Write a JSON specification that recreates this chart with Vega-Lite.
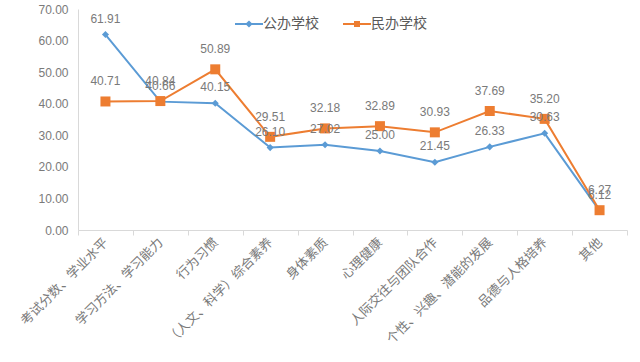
{
  "$schema": "https://vega.github.io/schema/vega-lite/v6.json",
  "width": 549,
  "height": 221,
  "autosize": "none",
  "padding": {"left": 78, "top": 9, "right": 13, "bottom": 132},
  "background": "white",
  "config": {"view": {"stroke": null}, "font": "Noto Sans CJK SC"},
  "data": {"values": [
    {"cat": "考试分数、学业水平", "o": 1, "s": "公办学校", "v": 61.91},
    {"cat": "学习方法、学习能力", "o": 2, "s": "公办学校", "v": 40.66},
    {"cat": "行为习惯", "o": 3, "s": "公办学校", "v": 40.15},
    {"cat": "（人文、科学）综合素养", "o": 4, "s": "公办学校", "v": 26.10},
    {"cat": "身体素质", "o": 5, "s": "公办学校", "v": 27.02},
    {"cat": "心理健康", "o": 6, "s": "公办学校", "v": 25.00},
    {"cat": "人际交往与团队合作", "o": 7, "s": "公办学校", "v": 21.45},
    {"cat": "个性、兴趣、潜能的发展", "o": 8, "s": "公办学校", "v": 26.33},
    {"cat": "品德与人格培养", "o": 9, "s": "公办学校", "v": 30.63},
    {"cat": "其他", "o": 10, "s": "公办学校", "v": 6.12},
    {"cat": "考试分数、学业水平", "o": 1, "s": "民办学校", "v": 40.71},
    {"cat": "学习方法、学习能力", "o": 2, "s": "民办学校", "v": 40.84},
    {"cat": "行为习惯", "o": 3, "s": "民办学校", "v": 50.89},
    {"cat": "（人文、科学）综合素养", "o": 4, "s": "民办学校", "v": 29.51},
    {"cat": "身体素质", "o": 5, "s": "民办学校", "v": 32.18},
    {"cat": "心理健康", "o": 6, "s": "民办学校", "v": 32.89},
    {"cat": "人际交往与团队合作", "o": 7, "s": "民办学校", "v": 30.93},
    {"cat": "个性、兴趣、潜能的发展", "o": 8, "s": "民办学校", "v": 37.69},
    {"cat": "品德与人格培养", "o": 9, "s": "民办学校", "v": 35.20},
    {"cat": "其他", "o": 10, "s": "民办学校", "v": 6.27}
  ]},
  "encoding": {
    "x": {"field": "cat", "type": "nominal", "sort": {"field": "o"},
      "scale": {"type": "band", "paddingInner": 0, "paddingOuter": 0},
      "axis": {"title": null, "labelAngle": -45, "labelAlign": "right", "labelBaseline": "middle",
        "labelFontSize": 13, "labelColor": "#7a7a7a", "tickBand": "extent", "domainColor": "#d9d9d9",
        "tickColor": "#d9d9d9", "tickSize": 5, "labelPadding": 5, "labelLimit": 200}},
    "y": {"field": "v", "type": "quantitative",
      "scale": {"domain": [0, 70]},
      "axis": {"title": null, "values": [0,10,20,30,40,50,60,70], "format": ".2f", "grid": false,
        "domainColor": "#d9d9d9", "ticks": false, "labelFontSize": 12, "labelColor": "#7a7a7a",
        "labelPadding": 10, "labelFont": "Liberation Sans"}},
    "color": {"field": "s", "type": "nominal",
      "scale": {"domain": ["公办学校", "民办学校"], "range": ["#5B9BD5", "#ED7D31"]},
      "legend": {"title": null, "orient": "none", "legendX": 160, "legendY": 4, "direction": "horizontal",
        "labelFontSize": 14, "labelColor": "#595959", "columnPadding": 20, "symbolSize": 400, "symbolStrokeWidth": 2,
        "symbolType": "M-1.4,0H1.4M-0.2,-0.2H0.2V0.2H-0.2Z", "labelOffset": 3, "symbolOpacity": 1,
        "encode": {"symbols": {"update": {"shape": {"signal": "datum.label === '公办学校' ? 'M-1.4,0H1.4M-0.22,0L0,-0.22L0.22,0L0,0.22Z' : 'M-1.4,0H1.4M-0.2,-0.2H0.2V0.2H-0.2Z'"}}}}}
    }
  },
  "layer": [
    {"mark": {"type": "line", "strokeWidth": 2}},
    {"transform": [{"filter": "datum.s === '公办学校'"}],
      "mark": {"type": "point", "filled": true, "opacity": 1, "shape": "diamond", "size": 50}},
    {"transform": [{"filter": "datum.s === '民办学校'"}],
      "mark": {"type": "point", "filled": true, "opacity": 1, "shape": "square", "size": 100}},
    {"transform": [{"filter": "datum.s === '公办学校'"}],
      "mark": {"type": "text", "dy": -16, "fontSize": 12, "font": "Liberation Sans"},
      "encoding": {"text": {"field": "v", "type": "quantitative", "format": ".2f"}, "color": {"value": "#7a7a7a"}}},
    {"transform": [{"filter": "datum.s === '民办学校'"}],
      "mark": {"type": "text", "dy": -20, "fontSize": 12, "font": "Liberation Sans"},
      "encoding": {"text": {"field": "v", "type": "quantitative", "format": ".2f"}, "color": {"value": "#7a7a7a"}}}
  ]
}
